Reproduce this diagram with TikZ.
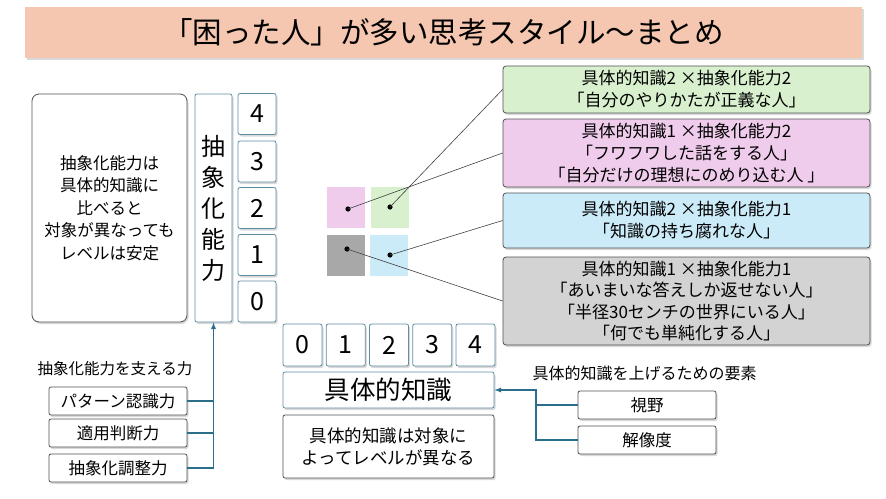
\documentclass[tikz,border=0pt]{standalone}
\usepackage{fontspec}
\setmainfont{Noto Sans CJK JP}
\usetikzlibrary{shadows}

\definecolor{bannerfill}{HTML}{F5C6B0}
\definecolor{greenfill}{HTML}{D8F0CE}
\definecolor{pinkfill}{HTML}{F0CCEC}
\definecolor{bluefill}{HTML}{CCEBF9}
\definecolor{grayfill}{HTML}{D3D3D3}
\definecolor{darksq}{HTML}{A8A8A8}
\definecolor{lvlline}{HTML}{5F8CA3}
\definecolor{boxline}{HTML}{505050}
\definecolor{connline}{HTML}{2B6E8C}

\begin{document}
\begin{tikzpicture}[x=1pt,y=-1pt,
  dropshade/.style={drop shadow={opacity=0.3,shadow xshift=1.5pt,shadow yshift=-2pt}},
  banner/.style={fill=bannerfill,minimum width=837pt,minimum height=51pt,inner sep=0pt,
    font=\fontsize{29.5}{34}\selectfont,dropshade},
  box/.style={draw=boxline,line width=0.8pt,fill=white,rounded corners=2pt,align=center,
    inner sep=0pt,dropshade},
  lvl/.style={draw=lvlline,line width=0.8pt,fill=white,rounded corners=2pt,align=center,
    inner sep=0pt,dropshade},
  kind/.style={draw=boxline,line width=0.8pt,rounded corners=3pt,align=center,inner sep=0pt,
    minimum width=367pt,font=\fontsize{17}{22}\selectfont,dropshade},
  square/.style={minimum width=38pt,minimum height=41pt,inner sep=0pt},
  lead/.style={draw=black!75,line width=0.6pt},
  conn/.style={>=latex,draw=connline,line width=1.3pt}]

\useasboundingbox (0,0) rectangle (886,498);

% Title banner
\node[banner] (title) at (443.5,32.5) {「困った人」が多い思考スタイル～まとめ};

% Abstraction axis
\node[box,rounded corners=7pt,minimum width=155pt,minimum height=228pt,
  font=\fontsize{16.5}{22.5}\selectfont] (absnote) at (109.5,208)
  {抽象化能力は\\具体的知識に\\比べると\\対象が異なっても\\レベルは安定};
\node[lvl,minimum width=37pt,minimum height=228pt,font=\fontsize{24}{31}\selectfont]
  (absname) at (213.5,208) {抽\\象\\化\\能\\力};
\foreach \n/\y in {4/114,3/161.5,2/208,1/255,0/301.5}
  \node[lvl,minimum width=38pt,minimum height=41pt,font=\fontsize{25}{30}\selectfont]
    (abs\n) at (257,\y) {\n};

% Knowledge axis
\foreach \n in {0,...,4}
  \node[lvl,minimum width=39pt,minimum height=42pt,font=\fontsize{25}{30}\selectfont]
    (know\n) at (302.5+43.25*\n,345) {\n};
\node[lvl,minimum width=211pt,minimum height=36pt,font=\fontsize{25.5}{30}\selectfont]
  (know) at (388.5,390) {具体的知識};
\node[box,minimum width=211pt,minimum height=63pt,font=\fontsize{17.5}{22}\selectfont]
  (knownote) at (388.5,446.5) {具体的知識は対象に\\よってレベルが異なる};

% The four squares and their dots
\node[square,fill=pinkfill] (sqpink) at (346,207.5) {};
\node[square,fill=greenfill] (sqgreen) at (390,207.5) {};
\node[square,fill=darksq] (sqgray) at (346,255.5) {};
\node[square,fill=bluefill] (sqblue) at (389,255.5) {};
\coordinate (dotpink) at (348,209);
\coordinate (dotgreen) at (390,207);
\coordinate (dotgray) at (347,249);
\coordinate (dotblue) at (390,255);
\foreach \d in {dotpink,dotgreen,dotgray,dotblue}
  \fill (\d) circle (2.6);

% The four kinds of people
\node[kind,fill=greenfill,minimum height=47pt] (kgreen) at (686.5,89.5)
  {具体的知識2 ×抽象化能力2\\「自分のやりかたが正義な人」};
\node[kind,fill=pinkfill,minimum height=68pt] (kpink) at (686.5,153)
  {具体的知識1 ×抽象化能力2\\「フワフワした話をする人」\\「自分だけの理想にのめり込む人 」};
\node[kind,fill=bluefill,minimum height=55pt] (kblue) at (686.5,220.5)
  {具体的知識2 ×抽象化能力1\\「知識の持ち腐れな人」};
\node[kind,fill=grayfill,minimum height=88pt,font=\fontsize{17}{21.5}\selectfont]
  (kgray) at (686.5,301)
  {具体的知識1 ×抽象化能力1\\「あいまいな答えしか返せない人」\\「半径30センチの世界にいる人」\\「何でも単純化する人」};

\draw[lead] (dotgreen) -- (kgreen.west);
\draw[lead] (dotpink) -- (kpink.west);
\draw[lead] (dotblue) -- (kblue.west);
\draw[lead] (dotgray) -- (kgray.west);

% Supports of abstraction
\node[font=\fontsize{15.5}{20}\selectfont] (supp) at (115,369) {抽象化能力を支える力};
\node[box,minimum width=138pt,minimum height=28pt,font=\fontsize{16.5}{20}\selectfont]
  (pattern) at (118,401) {パターン認識力};
\node[box,minimum width=138pt,minimum height=28pt,font=\fontsize{16.5}{20}\selectfont]
  (apply) at (118,433) {適用判断力};
\node[box,minimum width=138pt,minimum height=28pt,font=\fontsize{16.5}{20}\selectfont]
  (adjust) at (118,468) {抽象化調整力};

\draw[conn,->] (adjust.east) -| (absname.south);
\draw[conn] (pattern.east) -- (pattern.east -| absname.south);
\draw[conn] (apply.east) -- (apply.east -| absname.south);

% Elements of knowledge
\node[font=\fontsize{16}{20}\selectfont] (elem) at (644.5,373) {具体的知識を上げるための要素};
\node[box,minimum width=138pt,minimum height=28pt,font=\fontsize{16.5}{20}\selectfont]
  (view) at (647,405) {視野};
\node[box,minimum width=138pt,minimum height=28pt,font=\fontsize{16.5}{20}\selectfont]
  (reso) at (647,440) {解像度};
\coordinate (join) at (536,420);

\draw[conn,->] (reso.west) -- (reso.west -| join) |- (know.east);
\draw[conn] (view.west) -- (view.west -| join);

\end{tikzpicture}
\end{document}
